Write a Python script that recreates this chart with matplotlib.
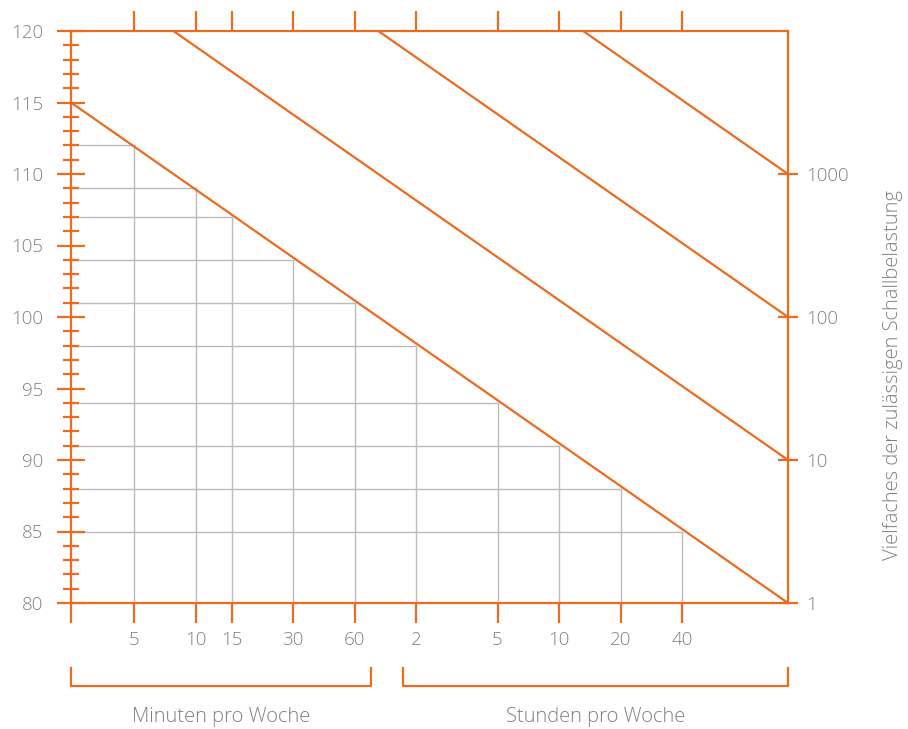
import numpy as np
import matplotlib.pyplot as plt
from matplotlib.ticker import FixedLocator, NullLocator

# Daten: zulässige Einwirkzeit pro Woche (in Stunden) und Pegel in dB(A)
zeiten_h = [5/60, 10/60, 15/60, 30/60, 60/60, 2, 5, 10, 20, 40]
zeit_labels = ['5', '10', '15', '30', '60', '2', '5', '10', '20', '40']
pegel = [112, 109, 107, 104, 101, 98, 94, 91, 88, 85]

# Grenzlinien: Pegel am linken und rechten Rand, Vielfaches der Belastung
x_rand = [0.0410, 131.8]            # Stunden pro Woche am Achsenrand
linie_start = [115, 125, 135, 145]
linie_ende = [80, 90, 100, 110]
vielfaches = ['1', '10', '100', '1000']

orange = '#EE6A1F'
grau_text = '#808080'
grau_gitter = '#BBBBBB'

plt.rcParams['font.family'] = ['Open Sans', 'DejaVu Sans']
plt.rcParams['font.weight'] = 'light'

fig = plt.figure(figsize=(9.08, 7.29), dpi=100)
ax = fig.add_axes([71/908, 1-603/729, 717/908, 572/729])
ax.set_xscale('log')
ax.set_xlim(x_rand)
ax.set_ylim(80, 120)

# Treppen-Gitter
for t, L in zip(zeiten_h, pegel):
    ax.plot([x_rand[0], t], [L, L], color=grau_gitter, lw=1, zorder=1)
    ax.plot([t, t], [80, L], color=grau_gitter, lw=1, zorder=1)

# Grenzlinien
for a, b in zip(linie_start, linie_ende):
    ax.plot(x_rand, [a, b], color=orange, lw=1.6, zorder=3)

for s in ax.spines.values():
    s.set_color(orange)
    s.set_linewidth(1.6)

# x-Achse
ax.xaxis.set_major_locator(FixedLocator([x_rand[0]] + zeiten_h))
ax.set_xticklabels([''] + zeit_labels)
ax.xaxis.set_minor_locator(NullLocator())
ax.tick_params(axis='x', which='major', direction='out', length=14.5, width=1.6,
               color=orange, labelcolor=grau_text, labelsize=13.5, pad=6,
               top=True)
ax.xaxis.get_major_ticks()[0].tick2line.set_visible(False)

# linke y-Achse
ax.set_yticks(np.arange(80, 121, 5))
ax.set_yticks([v for v in range(81, 120) if v % 5], minor=True)
ax.tick_params(axis='y', which='major', direction='inout', length=20, width=1.6,
               color=orange, labelcolor=grau_text, labelsize=13.5, pad=10)
ax.tick_params(axis='y', which='minor', direction='inout', length=11.5, width=1.6,
               color=orange)
ax.yaxis.get_major_ticks()[0].tick1line.set_visible(False)

# rechte y-Achse
ax2 = ax.twinx()
ax2.set_ylim(80, 120)
ax2.set_yticks(linie_ende)
ax2.set_yticklabels(vielfaches)
ax2.tick_params(axis='y', direction='inout', length=14, width=1.6,
                color=orange, labelcolor=grau_text, labelsize=13.5, pad=6)
for s in ax2.spines.values():
    s.set_visible(False)

fig.text(893/908, 1-375/729, 'Vielfaches der zulässigen Schallbelastung',
         rotation=90, ha='center', va='center', color=grau_text, fontsize=14.5)

# Klammern unter der x-Achse
yb, yt = -0.145, -0.114
for x0, x1, txt in [(0.0, 0.4184, 'Minuten pro Woche'),
                    (0.463, 1.0, 'Stunden pro Woche')]:
    ax.plot([x0, x0, x1, x1], [yt, yb, yb, yt], color=orange, lw=1.6,
            transform=ax.transAxes, clip_on=False)
    ax.text((x0 + x1) / 2, -0.199, txt, transform=ax.transAxes,
            ha='center', va='center', color=grau_text, fontsize=14.5)

fig.savefig('out.png', dpi=100)
